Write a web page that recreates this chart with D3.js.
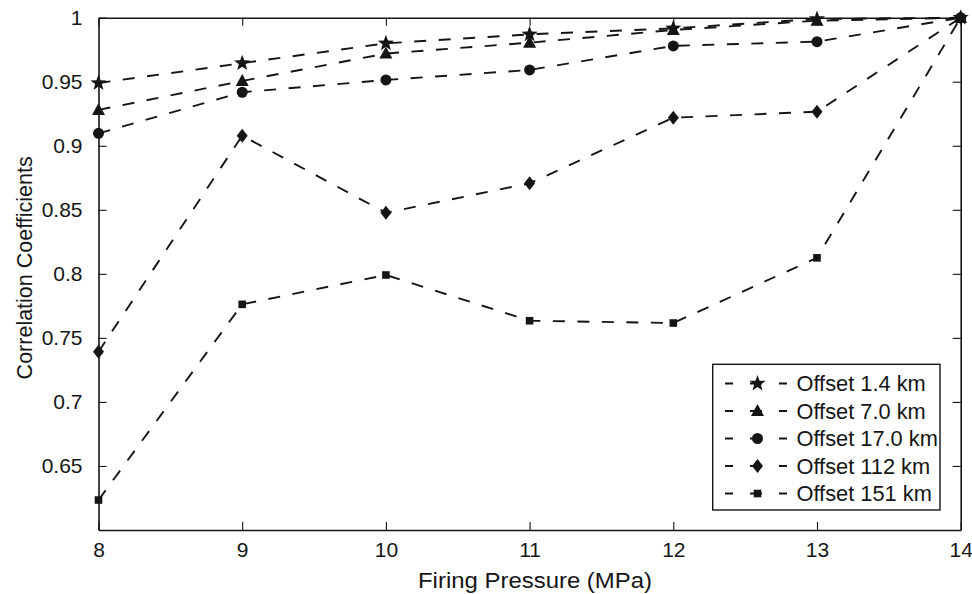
<!DOCTYPE html>
<html><head><meta charset="utf-8">
<script src="https://cdn.jsdelivr.net/npm/d3@7"></script>
<style>
html,body{margin:0;padding:0;background:#fff;}
svg{display:block;font-family:"Liberation Sans",Arial,Helvetica,sans-serif;}
</style></head>
<body><svg id="chart" width="972" height="594"></svg>
<script>
const pressures = [8, 9, 10, 11, 12, 13, 14];
const offset14 = [0.949, 0.9645, 0.980, 0.987, 0.9917, 0.999, 1.0];
const offset70 = [0.928, 0.9506, 0.972, 0.9805, 0.9904, 0.9977, 1.0];
const offset170 = [0.9097, 0.9418, 0.9514, 0.9592, 0.978, 0.9813, 1.0];
const offset112 = [0.7392, 0.9079, 0.8477, 0.8707, 0.9219, 0.9266, 1.0];
const offset151 = [0.6234, 0.7762, 0.7991, 0.7634, 0.7616, 0.8125, 1.0];
const seriesNames = ["Offset 1.4 km", "Offset 7.0 km", "Offset 17.0 km", "Offset 112 km", "Offset 151 km"];
const seriesMarkers = ["star", "triangle", "circle", "diamond", "square"];
const xTickValues = [8, 9, 10, 11, 12, 13, 14];
const yTickValues = [0.65, 0.7, 0.75, 0.8, 0.85, 0.9, 0.95, 1];
const xLabel = "Firing Pressure (MPa)";
const yLabel = "Correlation Coefficients";

const seriesValues = [offset14, offset70, offset170, offset112, offset151];

const svg = d3.select("#chart");
const L = 98.5, R = 960.7, T = 17.7, B = 530;
const x = d3.scaleLinear().domain([8, 14]).range([L, R]);
const y = d3.scaleLinear().domain([0.6, 1]).range([B, T]);
const ink = "#151515";
const fs = 21;

// axes box with inward ticks on all sides
const tl = 8;
const gB = svg.append("g").attr("transform", `translate(0,${B})`)
  .call(d3.axisBottom(x).tickValues(xTickValues).tickSize(-tl).tickSizeOuter(0).tickPadding(12).tickFormat(d3.format("d")));
const gT = svg.append("g").attr("transform", `translate(0,${T})`)
  .call(d3.axisTop(x).tickValues(xTickValues).tickSize(-tl).tickSizeOuter(0).tickFormat(""));
const gL = svg.append("g").attr("transform", `translate(${L},0)`)
  .call(d3.axisLeft(y).tickValues(yTickValues).tickSize(-tl).tickSizeOuter(0).tickPadding(16).tickFormat(d => d === 1 ? "1" : String(+d.toFixed(2))));
const gR = svg.append("g").attr("transform", `translate(${R},0)`)
  .call(d3.axisRight(y).tickValues(yTickValues).tickSize(-tl).tickSizeOuter(0).tickFormat(""));
[gB, gT, gL, gR].forEach(g => {
  g.select(".domain").attr("stroke", ink).attr("stroke-width", 1.6);
  g.selectAll(".tick line").attr("stroke", ink).attr("stroke-width", 1.1);
  g.selectAll(".tick text").attr("fill", ink).attr("font-size", fs).attr("font-family", "Liberation Sans, Arial, sans-serif");
});
gB.selectAll(".tick text").attr("dy", "0.71em");

// axis labels
svg.append("text").attr("x", 535).attr("y", 588).attr("text-anchor", "middle")
  .attr("font-size", 21.5).attr("fill", ink).attr("textLength", 234).attr("lengthAdjust", "spacingAndGlyphs").text(xLabel);
svg.append("text").attr("transform", `translate(32,${(T + B) / 2 - 6}) rotate(-90)`).attr("text-anchor", "middle")
  .attr("font-size", 21.5).attr("fill", ink).text(yLabel);

// markers
function starPath(ro, ri) {
  let p = [];
  for (let i = 0; i < 10; i++) {
    const a = -Math.PI / 2 + i * Math.PI / 5;
    const r = i % 2 === 0 ? ro : ri;
    p.push([r * Math.cos(a), r * Math.sin(a)]);
  }
  return "M" + p.map(q => q[0].toFixed(2) + "," + q[1].toFixed(2)).join("L") + "Z";
}
const markerPaths = {
  star: starPath(8.5, 3.5),
  triangle: "M0,-7L6.5,5L-6.5,5Z",
  circle: d3.symbol(d3.symbolCircle, Math.PI * 5.5 * 5.5)(),
  diamond: "M0,-7L5.5,0L0,7L-5.5,0Z",
  square: "M-3.8,-3.8H3.8V3.8H-3.8Z"
};

const line = d3.line().x(d => x(d[0])).y(d => y(d[1]));
const gPlot = svg.append("g");
seriesValues.forEach((vals, si) => {
  const pts = pressures.map((p, i) => [p, vals[i]]);
  gPlot.append("path").attr("d", line(pts)).attr("fill", "none").attr("stroke", ink)
    .attr("stroke-width", 1.9).attr("stroke-dasharray", "12,12.5");
  gPlot.selectAll(null).data(pts).enter().append("path")
    .attr("transform", d => `translate(${x(d[0])},${y(d[1])})`)
    .attr("d", markerPaths[seriesMarkers[si]]).attr("fill", ink);
});

// legend
const lgX = 712.7, lgY = 364.3, lgW = 227.3, lgH = 145.7;
const lg = svg.append("g");
lg.append("rect").attr("x", lgX).attr("y", lgY).attr("width", lgW).attr("height", lgH)
  .attr("fill", "#fff").attr("stroke", ink).attr("stroke-width", 1.4);
seriesNames.forEach((name, i) => {
  const yy = 383.5 + i * 27.5;
  lg.append("path").attr("d", `M725,${yy}H787`).attr("stroke", ink).attr("stroke-width", 1.8)
    .attr("stroke-dasharray", "8,17,12,17,10");
  lg.append("path").attr("transform", `translate(757.5,${yy})`).attr("d", markerPaths[seriesMarkers[i]]).attr("fill", ink);
  lg.append("text").attr("x", 796.5).attr("y", yy).attr("dy", "0.36em").attr("font-size", 21.8).attr("fill", ink).text(name);
});
</script></body></html>
